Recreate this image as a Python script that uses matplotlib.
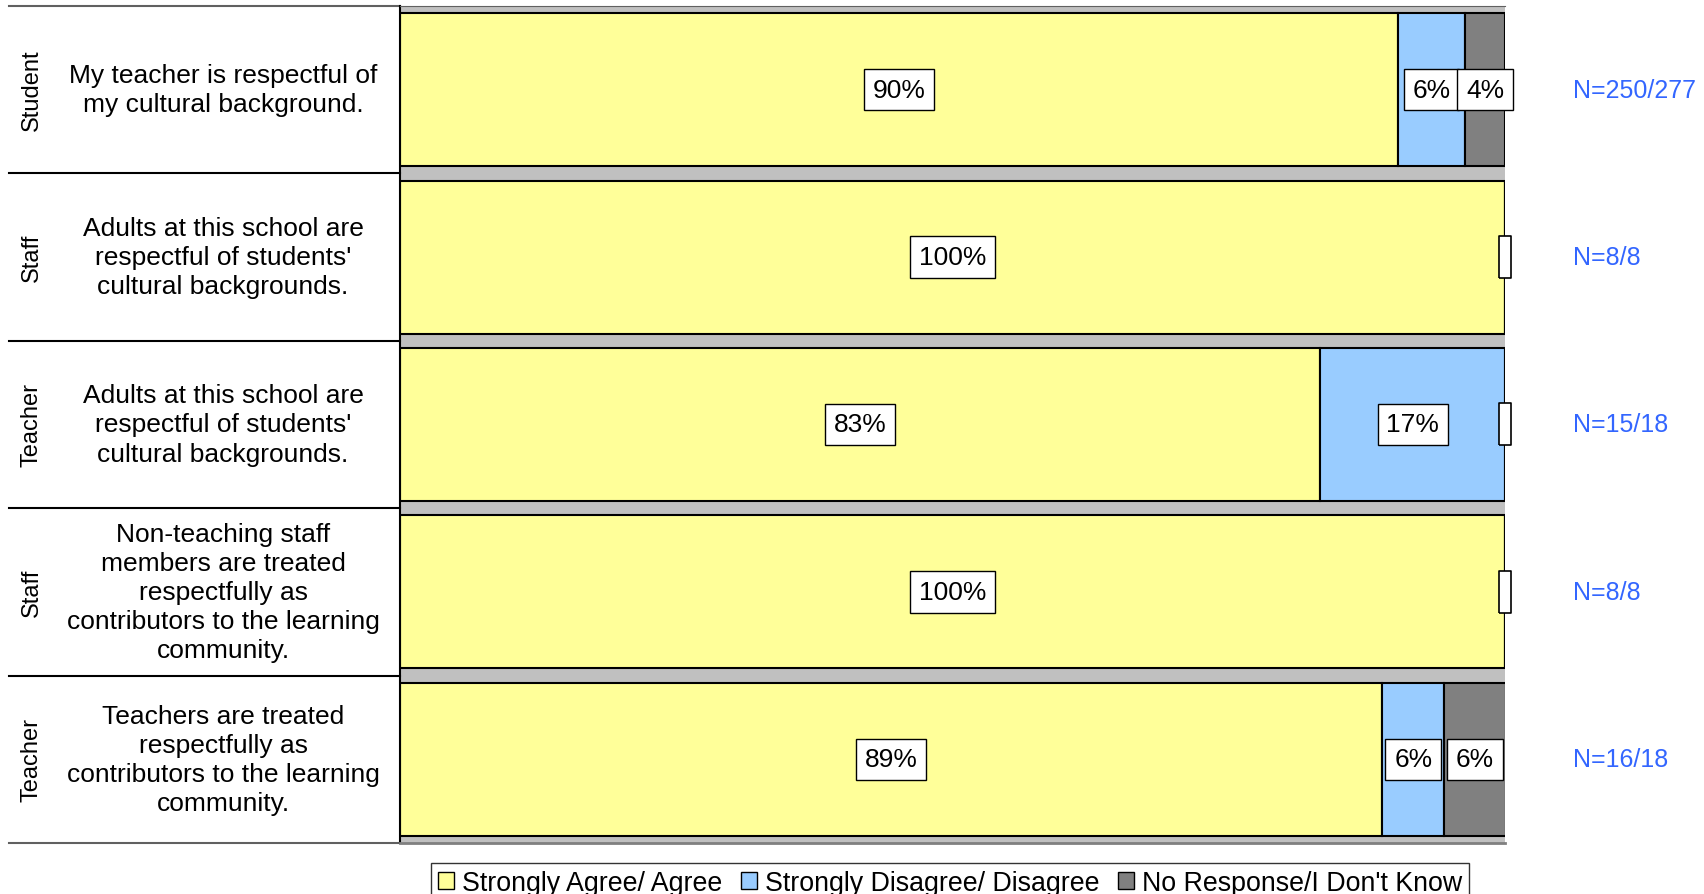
import matplotlib
matplotlib.use("Agg")
import matplotlib.pyplot as plt
from matplotlib.patches import Patch

plt.rcParams['font.family'] = ['Liberation Sans', 'DejaVu Sans']

# rows top to bottom
groups = ["Student", "Staff", "Teacher", "Staff", "Teacher"]
questions = [
    "My teacher is respectful of\nmy cultural background.",
    "Adults at this school are\nrespectful of students'\ncultural backgrounds.",
    "Adults at this school are\nrespectful of students'\ncultural backgrounds.",
    "Non-teaching staff\nmembers are treated\nrespectfully as\ncontributors to the learning\ncommunity.",
    "Teachers are treated\nrespectfully as\ncontributors to the learning\ncommunity.",
]
agree = [90.3, 100, 83.3, 100, 88.9]
disagree = [6.1, 0, 16.7, 0, 5.6]
no_response = [3.6, 0, 0, 0, 5.6]
n_labels = ["N=250/277", "N=8/8", "N=15/18", "N=8/8", "N=16/18"]

series_names = ["Strongly Agree/ Agree", "Strongly Disagree/ Disagree", "No Response/I Don't Know"]
colors = ["#FFFF99", "#99CCFF", "#808080"]
N_COLOR = "#3366FF"


def main():
    fig = plt.figure(figsize=(17.04, 8.95), dpi=100)
    ax = fig.add_axes([0.2347, 0.057, 0.6485, 0.9352])
    ax.set_facecolor("#C0C0C0")

    rows = list(range(len(groups)))
    series = [agree, disagree, no_response]
    lefts = [0.0] * len(rows)
    for vals, col in zip(series, colors):
        ax.barh(rows, vals, left=lefts, height=0.914, color=col,
                edgecolor="black", linewidth=1.5, zorder=2)
        for i, v in enumerate(vals):
            if v > 0:
                ax.text(lefts[i] + v / 2, i, "%d%%" % round(v), ha="center", va="center",
                        fontsize=19, zorder=4,
                        bbox=dict(boxstyle="square,pad=0.33", fc="white", ec="black", lw=1))
        lefts = [l + v for l, v in zip(lefts, vals)]

    # empty label box where the last segment is zero (sits at the bar end)
    box = [(-6, -21), (6, -21), (6, 21), (-6, 21), (-6, -21)]
    for i in rows:
        if no_response[i] == 0:
            ax.plot([lefts[i]], [i], marker=box, markersize=30, mfc="white",
                    mec="black", mew=1.2, ls="none", clip_on=False, zorder=5)

    ax.set_xlim(0, 100)
    ax.set_ylim(len(rows) - 0.5, -0.5)
    ax.set_xticks([])
    ax.set_yticks([])
    ax.spines["right"].set_visible(False)
    ax.spines["left"].set_color("black")
    ax.spines["left"].set_linewidth(1.5)
    ax.spines["top"].set_color("#606060")
    ax.spines["bottom"].set_color("#808080")
    ax.spines["bottom"].set_linewidth(2)

    trans = ax.get_yaxis_transform()
    for k in range(len(rows) + 1):
        col = "black" if 0 < k < len(rows) else "#606060"
        ax.plot([-0.354, 0], [k - 0.5, k - 0.5], transform=trans, color=col,
                lw=1.5, clip_on=False)

    for i in rows:
        ax.text(-0.333, i, groups[i], transform=trans, rotation=90, ha="center",
                va="center", fontsize=17)
        ax.text(-0.16, i, questions[i], transform=trans, ha="center", va="center",
                fontsize=19, linespacing=1.27)
        ax.text(1.0615, i, n_labels[i], transform=trans, ha="left", va="center",
                fontsize=18, color=N_COLOR)

    handles = [Patch(facecolor=c, edgecolor="black", linewidth=1) for c in colors]
    leg = fig.legend(handles, series_names, loc="upper center", ncol=3,
                     bbox_to_anchor=(0.5575, 0.0346), fontsize=19.3, frameon=True,
                     fancybox=False, edgecolor="black", handlelength=0.6,
                     handleheight=0.6, handletextpad=0.3, columnspacing=0.7,
                     borderpad=0.25, borderaxespad=0)
    leg.get_frame().set_linewidth(1)

    fig.savefig("out.png", dpi=100)


if __name__ == "__main__":
    main()
